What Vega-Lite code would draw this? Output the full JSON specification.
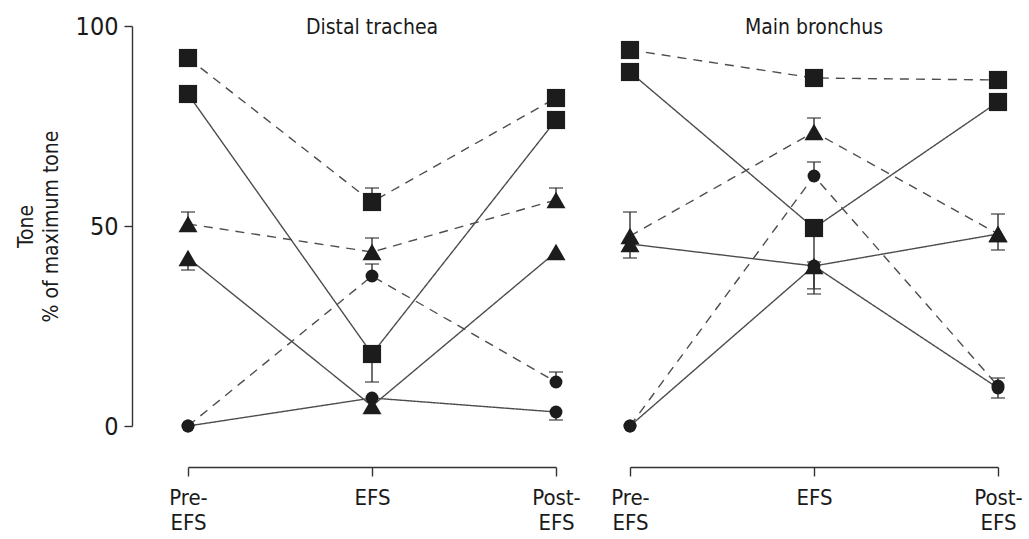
{
  "$schema": "https://vega.github.io/schema/vega-lite/v6.json",
  "padding": {"left": 15, "top": 14, "right": 5, "bottom": 5},
  "background": "white",
  "config": {
    "view": {"stroke": null},
    "font": "Liberation Sans Narrow, DejaVu Sans Condensed, Roboto Condensed, sans-serif",
    "axis": {"grid": false, "domainColor": "#333333", "tickColor": "#333333", "domainWidth": 1.4, "tickWidth": 1.4, "labelColor": "#1a1a1a", "titleColor": "#1a1a1a", "labelFont": "Liberation Sans Narrow, DejaVu Sans Condensed, Roboto Condensed, sans-serif", "titleFont": "Liberation Sans Narrow, DejaVu Sans Condensed, Roboto Condensed, sans-serif", "titleFontWeight": "normal"}
  },
  "data": {"values": [
    {"panel": "Distal trachea", "stage": "Pre-EFS", "series": "sqD", "marker": "square", "style": "dashed", "v": 92},
    {"panel": "Distal trachea", "stage": "EFS", "series": "sqD", "marker": "square", "style": "dashed", "v": 56, "up": 59.5},
    {"panel": "Distal trachea", "stage": "Post-EFS", "series": "sqD", "marker": "square", "style": "dashed", "v": 82},
    {"panel": "Distal trachea", "stage": "Pre-EFS", "series": "sqS", "marker": "square", "style": "solid", "v": 83},
    {"panel": "Distal trachea", "stage": "EFS", "series": "sqS", "marker": "square", "style": "solid", "v": 18, "dn": 11},
    {"panel": "Distal trachea", "stage": "Post-EFS", "series": "sqS", "marker": "square", "style": "solid", "v": 76.5},
    {"panel": "Distal trachea", "stage": "Pre-EFS", "series": "trD", "marker": "triangle", "style": "dashed", "v": 50.5, "up": 53.5},
    {"panel": "Distal trachea", "stage": "EFS", "series": "trD", "marker": "triangle", "style": "dashed", "v": 43.5, "up": 47},
    {"panel": "Distal trachea", "stage": "Post-EFS", "series": "trD", "marker": "triangle", "style": "dashed", "v": 56.5, "up": 59.5},
    {"panel": "Distal trachea", "stage": "Pre-EFS", "series": "trS", "marker": "triangle", "style": "solid", "v": 42, "dn": 39},
    {"panel": "Distal trachea", "stage": "EFS", "series": "trS", "marker": "triangle", "style": "solid", "v": 5},
    {"panel": "Distal trachea", "stage": "Post-EFS", "series": "trS", "marker": "triangle", "style": "solid", "v": 43.5},
    {"panel": "Distal trachea", "stage": "Pre-EFS", "series": "ciD", "marker": "circle", "style": "dashed", "v": 0},
    {"panel": "Distal trachea", "stage": "EFS", "series": "ciD", "marker": "circle", "style": "dashed", "v": 37.5, "up": 40.5},
    {"panel": "Distal trachea", "stage": "Post-EFS", "series": "ciD", "marker": "circle", "style": "dashed", "v": 11, "up": 13.5},
    {"panel": "Distal trachea", "stage": "Pre-EFS", "series": "ciS", "marker": "circle", "style": "solid", "v": 0},
    {"panel": "Distal trachea", "stage": "EFS", "series": "ciS", "marker": "circle", "style": "solid", "v": 7},
    {"panel": "Distal trachea", "stage": "Post-EFS", "series": "ciS", "marker": "circle", "style": "solid", "v": 3.5, "dn": 1.5},
    {"panel": "Main bronchus", "stage": "Pre-EFS", "series": "sqD", "marker": "square", "style": "dashed", "v": 94},
    {"panel": "Main bronchus", "stage": "EFS", "series": "sqD", "marker": "square", "style": "dashed", "v": 87},
    {"panel": "Main bronchus", "stage": "Post-EFS", "series": "sqD", "marker": "square", "style": "dashed", "v": 86.5},
    {"panel": "Main bronchus", "stage": "Pre-EFS", "series": "sqS", "marker": "square", "style": "solid", "v": 88.5},
    {"panel": "Main bronchus", "stage": "EFS", "series": "sqS", "marker": "square", "style": "solid", "v": 49.5, "dn": 41},
    {"panel": "Main bronchus", "stage": "Post-EFS", "series": "sqS", "marker": "square", "style": "solid", "v": 81},
    {"panel": "Main bronchus", "stage": "Pre-EFS", "series": "trD", "marker": "triangle", "style": "dashed", "v": 47.5, "up": 53.5},
    {"panel": "Main bronchus", "stage": "EFS", "series": "trD", "marker": "triangle", "style": "dashed", "v": 73.5, "up": 77},
    {"panel": "Main bronchus", "stage": "Post-EFS", "series": "trD", "marker": "triangle", "style": "dashed", "v": 48, "up": 53, "dn": 44},
    {"panel": "Main bronchus", "stage": "Pre-EFS", "series": "trS", "marker": "triangle", "style": "solid", "v": 45.5, "dn": 42},
    {"panel": "Main bronchus", "stage": "EFS", "series": "trS", "marker": "triangle", "style": "solid", "v": 40, "dn": 34.3},
    {"panel": "Main bronchus", "stage": "Post-EFS", "series": "trS", "marker": "triangle", "style": "solid", "v": 48},
    {"panel": "Main bronchus", "stage": "Pre-EFS", "series": "ciD", "marker": "circle", "style": "dashed", "v": 0},
    {"panel": "Main bronchus", "stage": "EFS", "series": "ciD", "marker": "circle", "style": "dashed", "v": 62.5, "up": 66},
    {"panel": "Main bronchus", "stage": "Post-EFS", "series": "ciD", "marker": "circle", "style": "dashed", "v": 10, "up": 12, "dn": 7},
    {"panel": "Main bronchus", "stage": "Pre-EFS", "series": "ciS", "marker": "circle", "style": "solid", "v": 0},
    {"panel": "Main bronchus", "stage": "EFS", "series": "ciS", "marker": "circle", "style": "solid", "v": 40, "dn": 33},
    {"panel": "Main bronchus", "stage": "Post-EFS", "series": "ciS", "marker": "circle", "style": "solid", "v": 9.5}
  ]},
  "facet": {
    "column": {
      "field": "panel", "type": "nominal", "sort": ["Distal trachea", "Main bronchus"],
      "header": {"title": null, "labelFontSize": 21, "labelFont": "Liberation Sans Narrow, DejaVu Sans Condensed, Roboto Condensed, sans-serif", "labelColor": "#1a1a1a", "labelPadding": -12}
    }
  },
  "spacing": 74,
  "bounds": "flush",
  "spec": {
    "width": 368,
    "height": 400,
    "encoding": {
      "x": {
        "field": "stage", "type": "ordinal", "sort": ["Pre-EFS", "EFS", "Post-EFS"],
        "scale": {"type": "point", "padding": 0},
        "axis": {"title": null, "offset": 41, "tickSize": 9, "labelAngle": 0, "labelFontSize": 22, "labelPadding": 11, "labelBaseline": "top", "labelLineHeight": 25, "labelFlush": false,
          "labelExpr": "datum.value == 'Pre-EFS' ? ['Pre-', 'EFS'] : datum.value == 'Post-EFS' ? ['Post-', 'EFS'] : datum.value"}
      },
      "y": {
        "field": "v", "type": "quantitative",
        "scale": {"domain": [0, 100], "nice": false, "zero": false},
        "axis": {"title": ["Tone", "% of maximum tone"], "values": [0, 50, 100], "offset": 56, "tickSize": 8, "labelFontSize": 25, "labelPadding": 6, "titleFontSize": 21, "titlePadding": 14, "titleLineHeight": 25}
      }
    },
    "layer": [
      {
        "mark": {"type": "line", "color": "#4d4d4d", "strokeWidth": 1.4},
        "encoding": {
          "detail": {"field": "series", "type": "nominal"},
          "strokeDash": {"field": "style", "type": "nominal", "scale": {"domain": ["solid", "dashed"], "range": [[1, 0], [9, 7]]}, "legend": null}
        }
      },
      {
        "transform": [{"filter": "isValid(datum.up)"}],
        "mark": {"type": "rule", "color": "#333333", "strokeWidth": 1.4},
        "encoding": {"y2": {"field": "up"}}
      },
      {
        "transform": [{"filter": "isValid(datum.dn)"}],
        "mark": {"type": "rule", "color": "#333333", "strokeWidth": 1.4},
        "encoding": {"y2": {"field": "dn"}}
      },
      {
        "transform": [{"filter": "isValid(datum.up)"}],
        "mark": {"type": "tick", "orient": "horizontal", "color": "#333333", "thickness": 1.6, "size": 14},
        "encoding": {"y": {"field": "up", "type": "quantitative"}}
      },
      {
        "transform": [{"filter": "isValid(datum.dn)"}],
        "mark": {"type": "tick", "orient": "horizontal", "color": "#333333", "thickness": 1.6, "size": 14},
        "encoding": {"y": {"field": "dn", "type": "quantitative"}}
      },
      {
        "transform": [{"filter": "datum.marker == 'circle'"}],
        "mark": {"type": "point", "shape": "circle", "filled": true, "color": "#1c1c1c", "opacity": 1, "size": 165}
      },
      {
        "transform": [{"filter": "datum.marker == 'triangle'"}],
        "mark": {"type": "point", "shape": "triangle-up", "filled": true, "color": "#1c1c1c", "opacity": 1, "size": 361}
      },
      {
        "transform": [{"filter": "datum.marker == 'square'"}],
        "mark": {"type": "point", "shape": "square", "filled": true, "color": "#1c1c1c", "opacity": 1, "size": 330}
      }
    ]
  }
}
